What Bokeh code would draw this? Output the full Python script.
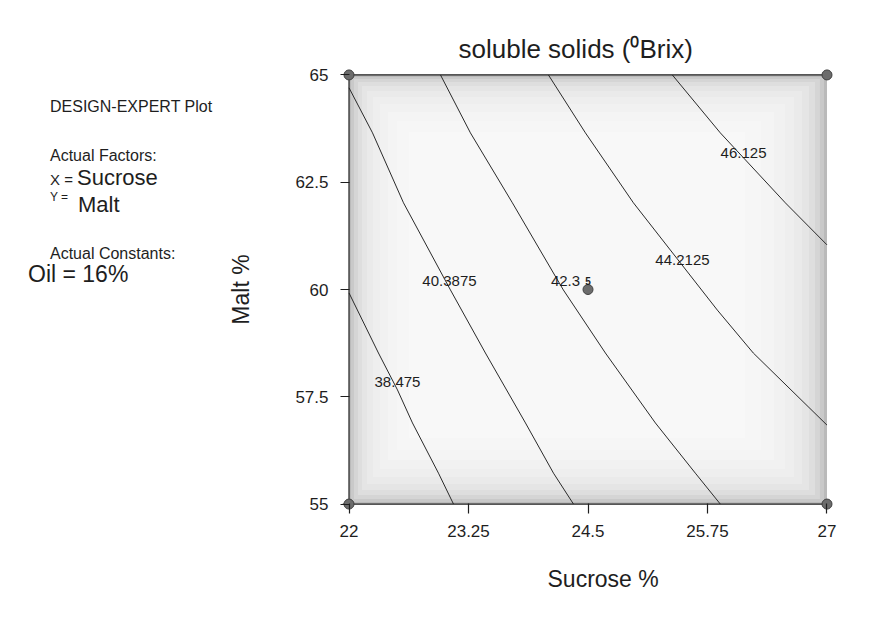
from bokeh.plotting import figure
from bokeh.models import Range1d, LinearAxis, FixedTicker, Label, Div, Title
from bokeh.layouts import row
from bokeh.embed import file_html
from bokeh.resources import INLINE

# ---- data ----
x_ticks = [22, 23.25, 24.5, 25.75, 27]
x_tick_labels = ["22", "23.25", "24.5", "25.75", "27"]
y_ticks = [55, 57.5, 60, 62.5, 65]
y_tick_labels = ["55", "57.5", "60", "62.5", "65"]

# design points (factorial corners + centre point with 5 replicates)
design_x = [22, 22, 27, 27, 24.5]
design_y = [55, 65, 55, 65, 60]
centre_reps = "5"

# contour levels of soluble solids (Brix)
levels = ["38.475", "40.3875", "42.3", "44.2125", "46.125"]
c38_x = [22.0, 22.308, 22.507, 22.664, 22.936, 23.093]
c38_y = [59.92, 58.52, 57.66, 56.89, 55.72, 55.0]
c40_x = [22.0, 22.246, 22.570, 23.061, 23.427, 23.846, 24.139, 24.348]
c40_y = [64.70, 63.65, 62.02, 59.99, 58.52, 56.89, 55.72, 55.0]
c42_x = [22.957, 23.270, 23.709, 24.242, 24.682, 25.205, 25.623, 25.884]
c42_y = [65.0, 63.65, 62.02, 59.99, 58.52, 56.89, 55.72, 55.0]
c44_x = [24.086, 24.473, 24.975, 25.853, 26.229, 27.0]
c44_y = [65.0, 63.65, 62.02, 59.52, 58.52, 56.84]
c46_x = [25.382, 25.884, 26.564, 27.0]
c46_y = [65.0, 63.65, 62.02, 61.04]

# contour label anchors
lab_x = [22.507, 23.051, 24.265, 25.488, 26.127]
lab_y = [57.856, 60.209, 60.209, 60.676, 63.192]

FONT = "Liberation Sans"
INK = "#1e1e1e"

XR = (21.932, 27.068)
YR = (54.85, 65.15)
FW, FH = 491, 442
DIV_W = 218

p = figure(frame_width=FW, frame_height=FH,
           x_range=Range1d(*XR), y_range=Range1d(*YR),
           x_axis_type=None, y_axis_type=None,
           output_backend="svg", toolbar_location=None,
           min_border_left=342 - DIV_W, min_border_right=53,
           min_border_top=68, min_border_bottom=133,
           background_fill_color="white", border_fill_color="white",
           outline_line_color=None, margin=0)

p.title.text = "soluble solids (\u2070Brix)"
p.title.align = "left"
p.title.offset = 116
p.title.text_font = FONT
p.title.text_font_size = "26px"
p.title.text_font_style = "normal"
p.title.text_color = INK
p.title.standoff = 9

# ---- shaded background of the design region ----
xpx = (XR[1] - XR[0]) / FW
ypx = (YR[1] - YR[0]) / FH
x0, x1 = x_ticks[0], x_ticks[-1]
y0, y1 = y_ticks[0], y_ticks[-1]
p.quad(left=x0, right=x1, bottom=y0, top=y1, fill_color="#bababa", line_color=None)
ins_l = [2, 5, 9, 13, 18, 24, 31, 39, 48, 60]
ins_r = [3, 7, 12, 18, 25, 33, 42, 53, 66, 82]
ins_t = [2, 4, 7, 11, 16, 22, 29, 37, 46, 57]
ins_b = [2, 5, 9, 14, 20, 27, 35, 44, 54, 66]
for l, r, t, b in zip(ins_l, ins_r, ins_t, ins_b):
    p.quad(left=x0 + l * xpx, right=x1 - r * xpx, top=y1 - t * ypx,
           bottom=y0 + b * ypx, fill_color="white", fill_alpha=0.22, line_color=None)

# ---- contour lines ----
p.multi_line(xs=[c38_x, c40_x, c42_x, c44_x, c46_x],
             ys=[c38_y, c40_y, c42_y, c44_y, c46_y],
             line_color="#2a2a2a", line_width=1)

# frame lines: left axis, bottom axis, top edge
p.segment(x0=[x_ticks[0], XR[0], XR[0] + 0.04],
          x1=[x_ticks[0], x_ticks[-1], x_ticks[-1]],
          y0=[y_ticks[0], y_ticks[0], y_ticks[-1]],
          y1=[y_ticks[-1], y_ticks[0], y_ticks[-1]],
          line_color=INK, line_width=1.2)

# ---- axes (ticks reach in to the drawn axis lines) ----
xaxis = LinearAxis(ticker=FixedTicker(ticks=x_ticks),
                   major_label_overrides=dict(zip(x_ticks, x_tick_labels)))
yaxis = LinearAxis(ticker=FixedTicker(ticks=y_ticks),
                   major_label_overrides=dict(zip(y_ticks, y_tick_labels)),
                   axis_label="Malt %")
for ax in (xaxis, yaxis):
    ax.axis_line_color = None
    ax.major_tick_line_color = INK
    ax.major_tick_line_width = 1.2
    ax.minor_tick_line_color = None
    ax.major_label_text_font = FONT
    ax.major_label_text_font_size = "17px"
    ax.major_label_text_color = INK
    ax.axis_label_text_font = FONT
    ax.axis_label_text_font_size = "23px"
    ax.axis_label_text_font_style = "normal"
    ax.axis_label_text_color = INK
xaxis.major_tick_in = 7
xaxis.major_tick_out = 3
xaxis.major_label_standoff = 11
yaxis.major_tick_in = 7
yaxis.major_tick_out = 2
yaxis.major_label_standoff = 12
yaxis.axis_label_standoff = 38
p.add_layout(xaxis, "below")
p.add_layout(yaxis, "left")

# x-axis title, offset to sit where the reference places it
p.add_layout(Title(text="Sucrose %", align="left", offset=205, text_font=FONT,
                   text_font_size="23px", text_font_style="normal",
                   text_color=INK, standoff=48), "below")

# ---- design points ----
p.scatter(design_x, design_y, size=10, fill_color="#6c6c6c", line_color="#404040")

# ---- contour labels ----
for t, lx, ly in zip(levels, lab_x, lab_y):
    p.add_layout(Label(x=lx, y=ly, text=t, text_font=FONT, text_font_size="15px",
                       text_align="center", text_baseline="middle", text_color=INK))
p.add_layout(Label(x=design_x[-1], y=60.209, text=centre_reps, text_font=FONT,
                   text_font_size="10px", text_font_style="bold",
                   text_align="center", text_baseline="middle", text_color=INK))

# ---- left information block ----
def span(text, left, baseline, fs):
    lh = 0.8 * fs
    top = baseline - 0.7465 * fs
    return (f'<span style="position:absolute;display:block;left:{left}px;top:{top:.1f}px;'
            f'font-size:{fs}px;line-height:{lh:.1f}px;height:{lh:.1f}px;'
            f'white-space:nowrap;">{text}</span>')

info = "".join([
    span("DESIGN-EXPERT Plot", 50, 113, 16),
    span("Actual Factors:", 50, 162, 16),
    span("X =", 50, 185.5, 15),
    span("Sucrose", 77, 185.5, 22),
    span("Y =", 50, 202, 12),
    span("Malt", 78, 212, 22),
    span("Actual Constants:", 50, 260, 16),
    span("Oil = 16%", 28, 281.7, 23),
])
div = Div(text=(f'<div style="position:relative;width:{DIV_W}px;height:643px;'
                f'font-family:\'Liberation Sans\';color:{INK};">{info}</div>'),
          width=DIV_W, height=643, margin=0)

layout = row(div, p, spacing=0)
open("out.html", "w").write(file_html(layout, INLINE))
